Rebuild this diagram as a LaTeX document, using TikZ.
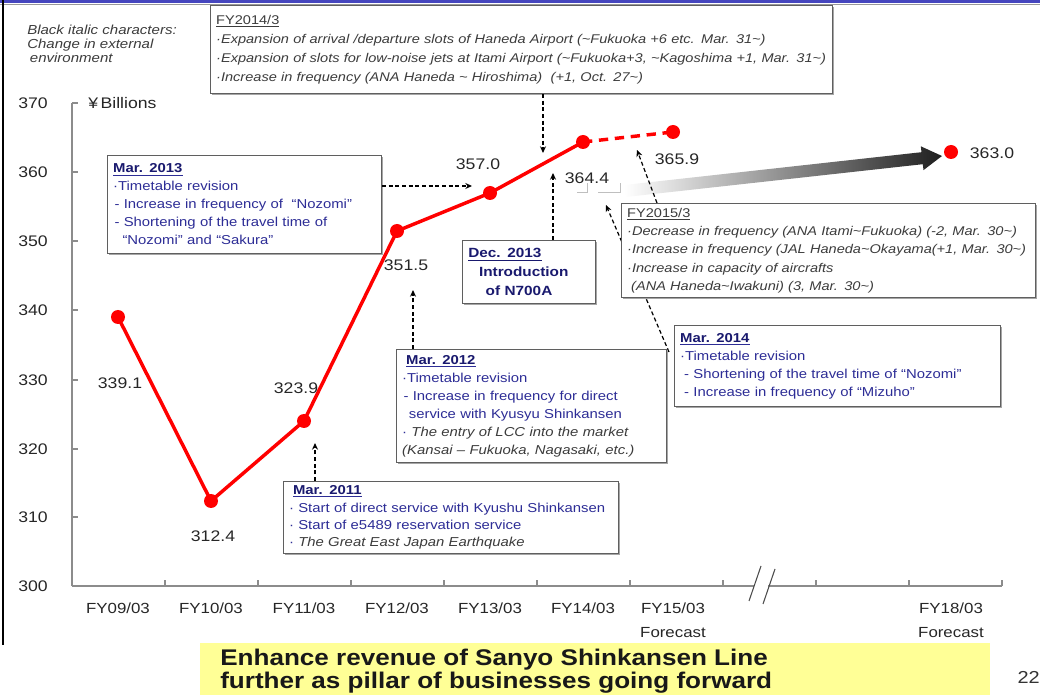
\documentclass[tikz,border=0pt]{standalone}
\usepackage{fontspec}
\setmainfont{Liberation Sans}[FakeStretch=1.15]
\usetikzlibrary{arrows.meta,calc,shadows}
\definecolor{boxblue}{RGB}{45,45,150}
\definecolor{titleblue}{RGB}{25,25,110}
\definecolor{txtgray}{RGB}{60,60,60}
\definecolor{boxline}{RGB}{95,95,95}
\definecolor{axisgray}{RGB}{140,140,140}
\definecolor{bannery}{RGB}{255,255,150}
\definecolor{topblue}{RGB}{70,70,190}
\tikzset{
  ibox/.style={draw=boxline, line width=0.8pt, fill=white, anchor=north west, align=left,
    inner xsep=4pt, inner ysep=2pt,
    general shadow={fill=black!35, shadow xshift=1.2pt, shadow yshift=-1.2pt}},
  bluetxt/.style={font=\fontsize{9.7}{13.5}\selectfont, text=boxblue},
  graytxt/.style={font=\fontsize{9.5}{14.2}\selectfont\itshape, text=txtgray},
  rdot/.style={circle, fill=red, inner sep=0pt, minimum size=10.5pt},
  val/.style={font=\fontsize{11.5}{12}\selectfont, text=black!85},
  ylab/.style={font=\fontsize{11.5}{12}\selectfont, text=black!85},
  xlab/.style={font=\fontsize{11}{18}\selectfont, text=black!85, align=center, anchor=north},
  darr/.style={dash pattern=on 3pt off 2pt, line width=0.9pt, -{Stealth[length=5pt,width=4.5pt]}},
  redline/.style={red, line width=2.6pt},
}
\newcommand{\ttl}[1]{\underline{\textbf{\color{titleblue}#1}}}
\newcommand{\ext}[1]{{\color{txtgray}\itshape #1}}
\begin{document}
\begin{tikzpicture}[x=0.75pt,y=-0.75pt]
\useasboundingbox (0,0) rectangle (1040,695);
% frame
\fill[topblue] (0,0) rectangle (1040,3);
\draw[black!40, line width=0.6pt] (0,4) -- (1040,4);
\draw[black, line width=1.5pt] (3,0) -- (3,645);

% banner
\fill[bannery] (200,643) rectangle (990,695);
\node[anchor=west, align=left, inner sep=0pt, font=\fontsize{17}{15.8}\selectfont\bfseries, text=black!90] (banner) at (220,671)
  {Enhance revenue of Sanyo Shinkansen Line\\further as pillar of businesses going forward};
\node[anchor=east, inner sep=0pt, font=\fontsize{13}{14}\selectfont, text=black!80] (page) at (1040,677) {22};

% legend
\node[anchor=north west, align=left, inner sep=0pt, font=\fontsize{9.8}{10.5}\selectfont\itshape, text=txtgray] (legend) at (27,25)
  {Black italic characters:\\Change in external\\\hspace*{2pt}environment};

% axes
\draw[axisgray, line width=1pt] (72,103) -- (72,586);
\draw[axisgray, line width=1.4pt] (72,586) -- (754,586);
\draw[axisgray, line width=1.4pt] (768,586) -- (1002,586);
\foreach \v/\yy in {370/103,360/172,350/241,340/310,330/380,320/449,310/517,300/586}{
  \draw[axisgray, line width=0.8pt] (72,\yy) -- (78,\yy);
  \node[ylab] (y\v) at (33,\yy) {\v};
}
\foreach \k in {0,...,10}{
  \draw[axisgray, line width=0.8pt] ({72+93*\k},586) -- ({72+93*\k},580);
}
\draw[black!70, line width=0.8pt] (761,566) -- (749,601);
\draw[black!70, line width=0.8pt] (775,569) -- (763,604);
\node[anchor=west, inner sep=0pt, font=\fontsize{11.5}{12}\selectfont, text=black!85] (unit) at (88,103) {¥\,Billions};

\node[xlab] (x1) at (118,598) {FY09/03};
\node[xlab] (x2) at (211,598) {FY10/03};
\node[xlab] (x3) at (304,598) {FY11/03};
\node[xlab] (x4) at (397,598) {FY12/03};
\node[xlab] (x5) at (490,598) {FY13/03};
\node[xlab] (x6) at (583,598) {FY14/03};
\node[xlab] (x7) at (673,598) {FY15/03\\Forecast};
\node[xlab] (x8) at (951,598) {FY18/03\\Forecast};

% gradient arrow
\shade[left color=white, right color=black!88]
  (624.3,185.0) -- (921.5,152.2) -- (920.8,146.3) -- (942,156) -- (923.5,170.1) -- (922.8,164.2) -- (625.7,197.0) -- cycle;
\draw[black!25, line width=0.7pt] (577,192) -- (587,192) -- (587,183);
\draw[black!25, line width=0.7pt] (598,192) -- (620,192) -- (620,183);

% data
\coordinate (c1) at (118,317);
\coordinate (c2) at (211,501);
\coordinate (c3) at (304,421);
\coordinate (c4) at (397,231);
\coordinate (c5) at (490,193);
\coordinate (c6) at (583,142);
\coordinate (c7) at (673,132);
\coordinate (c8) at (951,152);
\draw[redline, line join=round] (c1) -- (c2) -- (c3) -- (c4) -- (c5) -- (c6);
\draw[redline, dash pattern=on 7pt off 5pt] (c6) -- (c7);
\foreach \i in {1,...,8}{ \node[rdot] (p\i) at (c\i) {}; }

\node[val] (l1) at (120,383) {339.1};
\node[val] (l2) at (213,536) {312.4};
\node[val] (l3) at (296,388) {323.9};
\node[val] (l4) at (406,265) {351.5};
\node[val] (l5) at (478,164) {357.0};
\node[val] (l6) at (587,178) {364.4};
\node[val] (l7) at (677,159) {365.9};
\node[val] (l8) at (992,153) {363.0};

% arrow targets
\coordinate (t13) at (472,186);
\coordinate (t14a) at (543,153);
\coordinate (t14b) at (553,173);
\coordinate (t12) at (413,290);
\coordinate (t11) at (315,443);
\coordinate (t15) at (637,150);
\coordinate (t14c) at (606,205);
\coordinate (s14) at (669,352);
\coordinate (s15) at (657,203);
% connectors that pass behind the FY2015/3 box
\draw[darr] (s15) -- (t15);
\draw[darr] (s14) -- (t14c);

% boxes
\node[ibox, graytxt, minimum width=466.5pt, minimum height=66pt, text width=458pt] (fy14) at (210,5)
  {{\upshape\underline{FY2014/3}}\\
   ·Expansion of arrival /departure slots of Haneda Airport (\textasciitilde Fukuoka +6 etc. Mar. 31\textasciitilde)\\
   ·Expansion of slots for low-noise jets at Itami Airport (\textasciitilde Fukuoka+3, \textasciitilde Kagoshima +1, Mar. 31\textasciitilde)\\
   ·Increase in frequency (ANA Haneda \textasciitilde\ Hiroshima)\ \ (+1, Oct. 27\textasciitilde)};

\node[ibox, bluetxt, minimum width=205.5pt, minimum height=73.5pt, text width=197pt] (m13) at (107,155)
  {\ttl{Mar. 2013}\\
   ·Timetable revision\\
   \hspace*{1pt}- Increase in frequency of\ \ “Nozomi”\\
   \hspace*{1pt}- Shortening of the travel time of\\
   \hspace*{7pt}“Nozomi” and “Sakura”};

\node[ibox, bluetxt, font=\fontsize{10}{14}\selectfont\bfseries, text=titleblue, minimum width=99.75pt, minimum height=47.25pt, text width=91pt] (dec13) at (462,240)
  {\underline{Dec. 2013}\\
   \hspace*{8pt}Introduction\\
   \hspace*{13pt}of N700A};

\node[ibox, graytxt, font=\fontsize{9.5}{13.8}\selectfont\itshape, minimum width=310.5pt, minimum height=70.5pt, text width=302pt] (fy15) at (621,203)
  {{\upshape\underline{FY2015/3}}\\
   ·Decrease in frequency (ANA Itami\textasciitilde Fukuoka) (-2, Mar. 30\textasciitilde)\\
   ·Increase in frequency (JAL Haneda\textasciitilde Okayama(+1, Mar. 30\textasciitilde)\\
   ·Increase in capacity of aircrafts\\
   \hspace*{3pt}(ANA Haneda\textasciitilde Iwakuni) (3, Mar. 30\textasciitilde)};

\node[ibox, bluetxt, minimum width=244.5pt, minimum height=60.75pt, text width=236pt] (m14) at (674,325)
  {\ttl{Mar. 2014}\\
   ·Timetable revision\\
   \hspace*{3pt}- Shortening of the travel time of “Nozomi”\\
   \hspace*{3pt}- Increase in frequency of “Mizuho”};

\node[ibox, bluetxt, minimum width=202.5pt, minimum height=84.75pt, text width=194pt] (m12) at (396,349)
  {\hspace*{3pt}\ttl{Mar. 2012}\\
   ·Timetable revision\\
   \hspace*{1pt}- Increase in frequency for direct\\
   \hspace*{5pt}service with Kyusyu Shinkansen\\
   · \ext{The entry of LCC into the market}\\
   \ext{(Kansai -- Fukuoka, Nagasaki, etc.)}};

\node[ibox, bluetxt, font=\fontsize{9.7}{13}\selectfont, minimum width=251.25pt, minimum height=54pt, text width=243pt] (m11) at (283,481)
  {\hspace*{3pt}\ttl{Mar. 2011}\\
   · Start of direct service with Kyushu Shinkansen\\
   · Start of e5489 reservation service\\
   · \ext{The Great East Japan Earthquake}};

% dashed connectors
\draw[darr] (m13.east |- t13) -- (t13);
\draw[darr] (t14a |- fy14.south) -- (t14a);
\draw[darr] (t14b |- dec13.north) -- (t14b);
\draw[darr] (t12 |- m12.north) -- (t12);
\draw[darr] (t11 |- m11.north) -- (t11);
\end{tikzpicture}
\end{document}
